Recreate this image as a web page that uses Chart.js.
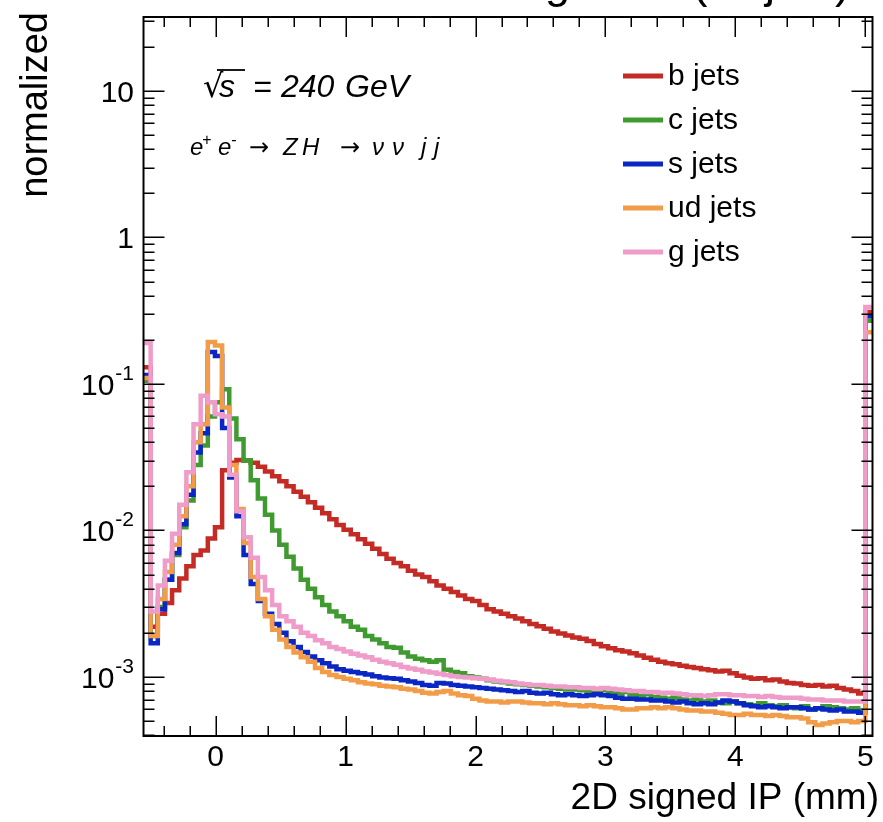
<!DOCTYPE html>
<html>
<head>
<meta charset="utf-8">
<script src="https://cdn.jsdelivr.net/npm/chart.js@4.4.1/dist/chart.umd.min.js"></script>
<style>
html,body{margin:0;padding:0;background:#fff;}
#wrap{width:883px;height:822px;position:relative;}
</style>
</head>
<body>
<div id="wrap"><canvas id="c" width="883" height="822"></canvas></div>
<script>
// ---- binning: underflow bin, 100 bins from -0.5 to 5, overflow bin ----
const binStart = -0.555;
const binWidth = 0.055;

// ---- series values (one per bin, underflow first, overflow last) ----
const bJets = [0.13,
 0.0022,0.0027,0.0032,0.0039,0.0047,0.0057,0.0068,0.0073,0.0088,0.0105,
 0.0258,0.0290,0.0303,0.0300,0.0290,0.0272,0.0253,0.0234,0.0217,0.0200,
 0.0184,0.0170,0.0156,0.0143,0.0131,0.0119,0.0109,0.0101,0.0094,0.0087,
 0.0081,0.0075,0.0069,0.0064,0.0060,0.0057,0.0053,0.0050,0.0048,0.0045,
 0.0042,0.0040,0.0038,0.0036,0.0034,0.0033,0.0031,0.0029,0.0028,0.0027,
 0.0026,0.0025,0.0024,0.0023,0.00222,0.00213,0.00204,0.00198,0.00192,0.00186,
 0.00182,0.00176,0.00168,0.00162,0.00157,0.00152,0.00149,0.00145,0.00140,0.00135,
 0.00131,0.00127,0.00124,0.00122,0.00119,0.00117,0.00115,0.00113,0.00111,0.00109,
 0.00110,0.00106,0.00102,0.00099,0.00097,0.00098,0.00095,0.00096,0.00093,0.00091,
 0.00090,0.00088,0.00087,0.00088,0.00086,0.00087,0.00084,0.00082,0.00080,0.00077,
 0.31];

const cJets = [0.105,
 0.0019,0.0030,0.0046,0.0068,0.0105,0.016,0.028,0.038,0.060,0.075,
 0.092,0.058,0.042,0.030,0.022,0.0165,0.0128,0.0100,0.0080,0.0066,
 0.0055,0.0046,0.0040,0.0035,0.0031,0.0028,0.0026,0.0024,0.0022,0.0021,
 0.0019,0.0018,0.0017,0.0016,0.00158,0.00147,0.00138,0.00133,0.00130,0.00127,
 0.00130,0.00112,0.00108,0.00106,0.00101,0.00099,0.00097,0.00095,0.00093,0.00092,
 0.00090,0.00089,0.00088,0.00087,0.00086,0.00085,0.00084,0.00083,0.00082,0.00082,
 0.00081,0.00079,0.00080,0.00081,0.00078,0.00077,0.00079,0.00075,0.00074,0.00076,
 0.00073,0.00072,0.00071,0.00072,0.00070,0.00069,0.00070,0.00068,0.00069,0.00067,
 0.00066,0.00068,0.00066,0.00065,0.00064,0.00066,0.00064,0.00063,0.00064,0.00062,
 0.00061,0.00063,0.00060,0.00061,0.00063,0.00062,0.00061,0.00060,0.00061,0.00059,
 0.27];

const sJets = [0.115,
 0.0017,0.0029,0.0046,0.0070,0.0110,0.0175,0.034,0.046,0.165,0.155,
 0.050,0.023,0.0125,0.0068,0.0043,0.0033,0.0027,0.0023,0.0020,0.00175,
 0.0016,0.00148,0.00138,0.0013,0.00124,0.00118,0.00113,0.00110,0.00108,0.00106,
 0.00104,0.00101,0.00099,0.00098,0.00097,0.00095,0.00093,0.00091,0.00088,0.00087,
 0.00091,0.00090,0.00088,0.00087,0.00086,0.00085,0.00084,0.00083,0.00082,0.00081,
 0.00080,0.00079,0.00080,0.00078,0.00077,0.00078,0.00076,0.00075,0.00076,0.00075,
 0.00074,0.00075,0.00076,0.00075,0.00074,0.00072,0.00071,0.00071,0.00070,0.00070,
 0.00069,0.00069,0.00068,0.00067,0.00068,0.00066,0.00065,0.00066,0.00065,0.00067,
 0.00069,0.00068,0.00066,0.00064,0.00063,0.00062,0.00063,0.00062,0.00061,0.00062,
 0.00062,0.00061,0.00060,0.00061,0.00060,0.00059,0.00060,0.00058,0.00058,0.00057,
 0.29];

const udJets = [0.11,
 0.0019,0.0034,0.0052,0.0080,0.0125,0.020,0.040,0.053,0.193,0.183,
 0.069,0.028,0.014,0.0082,0.0048,0.0034,0.0026,0.0021,0.0018,0.0016,
 0.00147,0.00136,0.00127,0.00115,0.00108,0.00103,0.00100,0.00097,0.00095,0.00092,
 0.00090,0.00089,0.00087,0.00086,0.00085,0.00083,0.00082,0.00080,0.00078,0.00077,
 0.00079,0.00080,0.00077,0.00075,0.00074,0.00071,0.00069,0.00068,0.00068,0.00067,
 0.00068,0.00068,0.00067,0.00066,0.00066,0.00065,0.00066,0.00065,0.00064,0.00064,
 0.00063,0.00064,0.00063,0.00062,0.00062,0.00061,0.00060,0.00060,0.00061,0.00061,
 0.00062,0.00061,0.00062,0.00061,0.00060,0.00059,0.00059,0.00058,0.00058,0.00057,
 0.00056,0.00055,0.00055,0.00056,0.00055,0.00055,0.00054,0.00055,0.00054,0.00053,
 0.00053,0.00052,0.00049,0.00047,0.00048,0.00049,0.00050,0.00050,0.00049,0.00050,
 0.225];

const gJets = [0.19,
 0.0028,0.0042,0.0062,0.0095,0.015,0.025,0.053,0.083,0.075,0.062,
 0.060,0.024,0.0135,0.009,0.0065,0.0048,0.0039,0.0031,0.0026,0.0024,
 0.0022,0.0020,0.0019,0.00178,0.0017,0.0016,0.00155,0.00149,0.00144,0.00140,
 0.00136,0.00131,0.00127,0.00124,0.00121,0.00117,0.00114,0.00112,0.00109,0.00107,
 0.00105,0.00103,0.00101,0.00100,0.00099,0.00098,0.00097,0.00096,0.00094,0.00093,
 0.00092,0.00090,0.00089,0.00088,0.00088,0.00087,0.00086,0.00086,0.00085,0.00085,
 0.00084,0.00084,0.00083,0.00084,0.00083,0.00082,0.00081,0.00080,0.00080,0.00079,
 0.00079,0.00078,0.00078,0.00077,0.00076,0.00075,0.00075,0.00074,0.00075,0.00076,
 0.00076,0.00075,0.00075,0.00074,0.00074,0.00073,0.00074,0.00073,0.00072,0.00072,
 0.00072,0.00071,0.00070,0.00070,0.00069,0.00069,0.00069,0.00068,0.00068,0.00068,
 0.335];

const seriesNames = ['b jets', 'c jets', 's jets', 'ud jets', 'g jets'];
const seriesValues = [bJets, cJets, sJets, udJets, gJets];
const seriesColors = ['#c42b25', '#3f9b30', '#0a27c6', '#f39c48', '#ef9ccb'];

// ---- axes ----
const xRange = [-0.555, 5.055];
const yRange = [3.95e-4, 32];
const xTickValues = [0, 1, 2, 3, 4, 5];
const xTickLabels = ['0', '1', '2', '3', '4', '5'];
const yTickValues = [0.001, 0.01, 0.1, 1, 10];
const yTickBase = ['10', '10', '10', '1', '10'];
const yTickSup = ['-3', '-2', '-1', '', ''];
const xTitle = '2D signed IP (mm)';
const yTitle = 'normalized';
const plotTitle = 'Leading track (all jets)';

function histPoints(vals) {
  const pts = vals.map((v, i) => ({x: binStart + i * binWidth, y: v}));
  pts.push({x: binStart + vals.length * binWidth, y: vals[vals.length - 1]});
  return pts;
}

const FONT = '"Liberation Sans", Arimo, Arial, Helvetica, sans-serif';

const rootDecor = {
  id: 'rootDecor',
  afterDraw(chart) {
    const {ctx, chartArea: a, scales} = chart;
    const x = scales.x, y = scales.y;
    ctx.save();
    // frame
    ctx.strokeStyle = '#000';
    ctx.lineWidth = 2;
    ctx.strokeRect(a.left, a.top, a.right - a.left, a.bottom - a.top);

    // x ticks (inside, bottom and top)
    ctx.lineWidth = 1.5;
    ctx.beginPath();
    for (let k = -2; k <= 25; k++) {
      const v = k / 5;
      if (v < x.min || v > x.max) continue;
      const px = Math.round(x.getPixelForValue(v)) + 0.25;
      const L = (k % 5 === 0) ? 20 : 10;
      ctx.moveTo(px, a.bottom); ctx.lineTo(px, a.bottom - L);
      ctx.moveTo(px, a.top); ctx.lineTo(px, a.top + L);
    }
    // y ticks (inside, left and right)
    for (let e = -4; e <= 1; e++) {
      for (let m = 1; m <= 9; m++) {
        const v = m * Math.pow(10, e);
        if (v < y.min || v > y.max) continue;
        const py = Math.round(y.getPixelForValue(v)) + 0.25;
        const L = (m === 1) ? 21 : 11;
        ctx.moveTo(a.left, py); ctx.lineTo(a.left + L, py);
        ctx.moveTo(a.right, py); ctx.lineTo(a.right - L, py);
      }
    }
    ctx.stroke();

    ctx.fillStyle = '#000';
    // x tick labels
    ctx.font = '30px ' + FONT;
    ctx.textAlign = 'center';
    ctx.textBaseline = 'alphabetic';
    xTickValues.forEach((v, i) => {
      ctx.fillText(xTickLabels[i], x.getPixelForValue(v), 766);
    });
    // y tick labels (with superscript exponents)
    yTickValues.forEach((v, i) => {
      const py = y.getPixelForValue(v);
      const right = 134;
      ctx.textAlign = 'right';
      if (yTickSup[i]) {
        ctx.font = '21px ' + FONT;
        const sw = ctx.measureText(yTickSup[i]).width;
        ctx.fillText(yTickSup[i], right, py - 4);
        ctx.font = '30px ' + FONT;
        ctx.fillText(yTickBase[i], right - sw - 1, py + 11);
      } else {
        ctx.font = '30px ' + FONT;
        ctx.fillText(yTickBase[i], right, py + 11);
      }
    });

    // axis titles
    ctx.font = '37px ' + FONT;
    ctx.textAlign = 'right';
    ctx.fillText(xTitle, 879, 809);
    ctx.save();
    ctx.translate(47, 12);
    ctx.rotate(-Math.PI / 2);
    ctx.font = '38px ' + FONT;
    ctx.textAlign = 'right';
    ctx.fillText(yTitle, 0, 0);
    ctx.restore();

    // plot title (cut off at top of canvas)
    ctx.font = '45px ' + FONT;
    ctx.textAlign = 'right';
    ctx.fillText(plotTitle, 850, -2.5);

    // annotation: sqrt(s) = 240 GeV
    ctx.textAlign = 'left';
    ctx.font = '32px "DejaVu Sans", ' + FONT;
    ctx.fillText('\u221A', 203, 97);
    ctx.font = 'italic 32px ' + FONT;
    ctx.fillText('s', 219, 97);
    ctx.fillText('=', 253, 97);
    ctx.fillText('240', 281, 97);
    ctx.fillText('GeV', 345, 97);
    ctx.lineWidth = 1.8;
    ctx.beginPath();
    ctx.moveTo(217, 70); ctx.lineTo(245, 70);
    ctx.stroke();

    // annotation: process
    const base = 155;
    const parts = [
      ['e', 190, 0, 'i'], ['+', 202, 1, 'i'], ['e', 218, 0, 'i'], ['-', 231, 1, 'i'],
      ['\u2192', 249, 0, 'a'], ['Z', 283, 0, 'i'], ['H', 302, 0, 'i'],
      ['\u2192', 340, 0, 'a'], ['\u03BD', 372, 0, 'i'], ['\u03BD', 392, 0, 'i'],
      ['j', 421, 0, 'i'], ['j', 434, 0, 'i']
    ];
    parts.forEach(p => {
      const sup = p[2] === 1;
      if (p[3] === 'a') {
        ctx.font = '24px "DejaVu Sans", ' + FONT;
      } else {
        ctx.font = 'italic ' + (sup ? 16 : 24) + 'px ' + FONT;
      }
      ctx.fillText(p[0], p[1], sup ? base - 10 : base);
    });

    // legend
    const rows = [76, 120, 164, 208, 252];
    seriesNames.forEach((name, i) => {
      ctx.strokeStyle = seriesColors[i];
      ctx.lineWidth = 5;
      ctx.beginPath();
      ctx.moveTo(623, rows[i]); ctx.lineTo(663, rows[i]);
      ctx.stroke();
      ctx.fillStyle = '#000';
      ctx.font = '30px ' + FONT;
      ctx.textAlign = 'left';
      ctx.textBaseline = 'middle';
      ctx.fillText(name, 668, rows[i] + 1);
    });
    ctx.restore();
  }
};

const datasets = seriesNames.map((name, i) => ({
  label: name,
  data: histPoints(seriesValues[i]),
  borderColor: seriesColors[i],
  backgroundColor: seriesColors[i],
  borderWidth: 4.5,
  pointRadius: 0,
  fill: false,
  stepped: 'before',
  tension: 0,
  borderJoinStyle: 'miter',
  order: seriesNames.length - i
}));

new Chart(document.getElementById('c'), {
  type: 'line',
  data: {datasets},
  options: {
    responsive: false,
    animation: false,
    devicePixelRatio: 1,
    layout: {padding: {left: 143.5, right: 10.5, top: 17, bottom: 86}},
    plugins: {legend: {display: false}, tooltip: {enabled: false}, title: {display: false}},
    scales: {
      x: {type: 'linear', min: xRange[0], max: xRange[1], display: false},
      y: {type: 'logarithmic', min: yRange[0], max: yRange[1], display: false}
    }
  },
  plugins: [rootDecor]
});
</script>
</body>
</html>
